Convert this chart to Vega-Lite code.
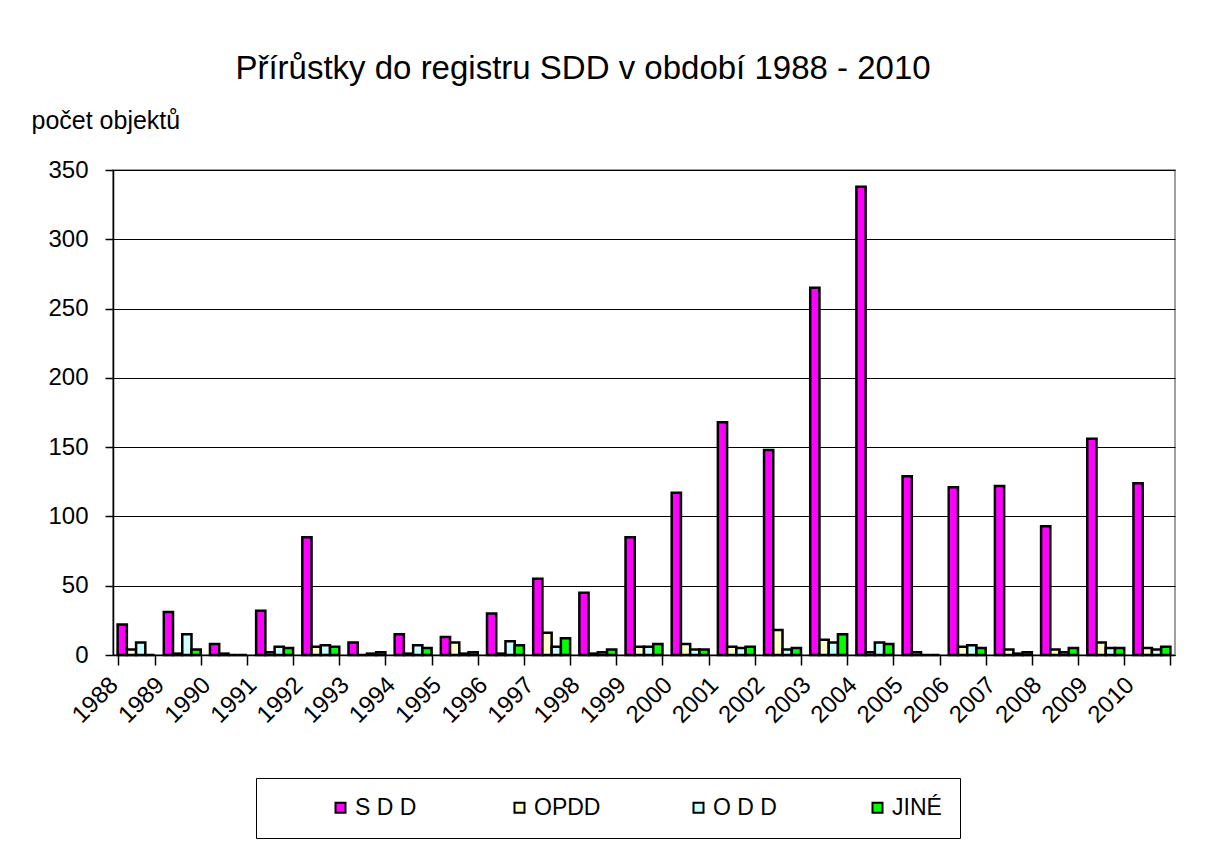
{
  "$schema": "https://vega.github.io/schema/vega-lite/v6.json",
  "width": 1062,
  "height": 485,
  "autosize": {"type": "none"},
  "padding": {"left": 113, "top": 170, "right": 33, "bottom": 193},
  "background": "white",
  "title": {
    "text": "Přírůstky do registru SDD v období 1988 - 2010",
    "font": "Liberation Sans",
    "fontSize": 33,
    "fontWeight": "normal",
    "color": "black",
    "anchor": "middle",
    "frame": "group",
    "dx": -61,
    "offset": 22
  },
  "data": {
    "values": [
      {"year": "1988", "SDD": 22, "OPDD": 4, "ODD": 9, "JINE": 0},
      {"year": "1989", "SDD": 31, "OPDD": 1, "ODD": 15, "JINE": 4},
      {"year": "1990", "SDD": 8, "OPDD": 1, "ODD": 0, "JINE": 0},
      {"year": "1991", "SDD": 32, "OPDD": 2, "ODD": 6, "JINE": 5},
      {"year": "1992", "SDD": 85, "OPDD": 6, "ODD": 7, "JINE": 6},
      {"year": "1993", "SDD": 9, "OPDD": 0, "ODD": 1, "JINE": 2},
      {"year": "1994", "SDD": 15, "OPDD": 1, "ODD": 7, "JINE": 5},
      {"year": "1995", "SDD": 13, "OPDD": 9, "ODD": 1, "JINE": 2},
      {"year": "1996", "SDD": 30, "OPDD": 1, "ODD": 10, "JINE": 7},
      {"year": "1997", "SDD": 55, "OPDD": 16, "ODD": 6, "JINE": 12},
      {"year": "1998", "SDD": 45, "OPDD": 1, "ODD": 2, "JINE": 4},
      {"year": "1999", "SDD": 85, "OPDD": 6, "ODD": 6, "JINE": 8},
      {"year": "2000", "SDD": 117, "OPDD": 8, "ODD": 4, "JINE": 4},
      {"year": "2001", "SDD": 168, "OPDD": 6, "ODD": 5, "JINE": 6},
      {"year": "2002", "SDD": 148, "OPDD": 18, "ODD": 4, "JINE": 5},
      {"year": "2003", "SDD": 265, "OPDD": 11, "ODD": 9, "JINE": 15},
      {"year": "2004", "SDD": 338, "OPDD": 2, "ODD": 9, "JINE": 8},
      {"year": "2005", "SDD": 129, "OPDD": 2, "ODD": 0, "JINE": 0},
      {"year": "2006", "SDD": 121, "OPDD": 6, "ODD": 7, "JINE": 5},
      {"year": "2007", "SDD": 122, "OPDD": 4, "ODD": 1, "JINE": 2},
      {"year": "2008", "SDD": 93, "OPDD": 4, "ODD": 2, "JINE": 5},
      {"year": "2009", "SDD": 156, "OPDD": 9, "ODD": 5, "JINE": 5},
      {"year": "2010", "SDD": 124, "OPDD": 5, "ODD": 4, "JINE": 6}
    ]
  },
  "transform": [{"fold": ["SDD", "OPDD", "ODD", "JINE"], "as": ["series", "value"]}],
  "mark": {"type": "bar", "stroke": "black", "strokeWidth": 2.5},
  "encoding": {
    "x": {
      "field": "year",
      "type": "nominal",
      "scale": {"paddingInner": 0.2, "paddingOuter": 0.1},
      "axis": {
        "title": null,
        "labelAngle": -45,
        "labelAlign": "right",
        "labelBaseline": "middle",
        "labelFontSize": 24,
        "labelColor": "black",
        "labelPadding": 16,
        "labelOffset": -22,
        "labelBound": false,
        "labelOverlap": false,
        "domainColor": "black",
        "domainWidth": 1.5,
        "tickColor": "black",
        "tickWidth": 1.5,
        "tickSize": 10,
        "tickBand": "extent",
        "grid": false
      }
    },
    "xOffset": {"field": "series", "type": "nominal", "scale": {"domain": ["SDD", "OPDD", "ODD", "JINE"]}},
    "y": {
      "field": "value",
      "type": "quantitative",
      "scale": {"domain": [0, 350], "nice": false},
      "axis": {
        "title": "počet objektů",
        "titleAngle": 0,
        "titleAlign": "left",
        "titleBaseline": "alphabetic",
        "titleX": -82,
        "titleY": -42,
        "titleFontSize": 25,
        "titleFontWeight": "normal",
        "titleColor": "black",
        "values": [0, 50, 100, 150, 200, 250, 300, 350],
        "labelFontSize": 24,
        "labelColor": "black",
        "labelPadding": 17,
        "tickSize": 8,
        "tickColor": "black",
        "tickWidth": 1.5,
        "domainColor": "black",
        "domainWidth": 1.5,
        "grid": true,
        "gridColor": "black",
        "gridWidth": 1.2
      }
    },
    "color": {
      "field": "series",
      "type": "nominal",
      "scale": {"domain": ["SDD", "OPDD", "ODD", "JINE"], "range": ["#FF00FF", "#FFFFCC", "#CCFFFF", "#00FF00"]},
      "legend": {
        "title": " ",
        "titleOrient": "left",
        "titlePadding": 55,
        "titleFontSize": 18,
        "orient": "none",
        "legendX": 143,
        "legendY": 608,
        "direction": "horizontal",
        "columns": 4,
        "gridAlign": "all",
        "columnPadding": 86,
        "strokeColor": "black",
        "padding": 18,
        "symbolType": "square",
        "symbolSize": 100,
        "symbolStrokeColor": "black",
        "symbolStrokeWidth": 2,
        "symbolOpacity": 1,
        "labelFontSize": 23,
        "labelColor": "black",
        "labelOffset": 3,
        "labelExpr": "datum.value == 'SDD' ? 'S D D' : datum.value == 'ODD' ? 'O D D' : datum.value == 'JINE' ? 'JINÉ' : datum.value"
      }
    }
  },
  "config": {
    "font": "Liberation Sans",
    "view": {"stroke": "#808080", "strokeWidth": 1.5}
  }
}
